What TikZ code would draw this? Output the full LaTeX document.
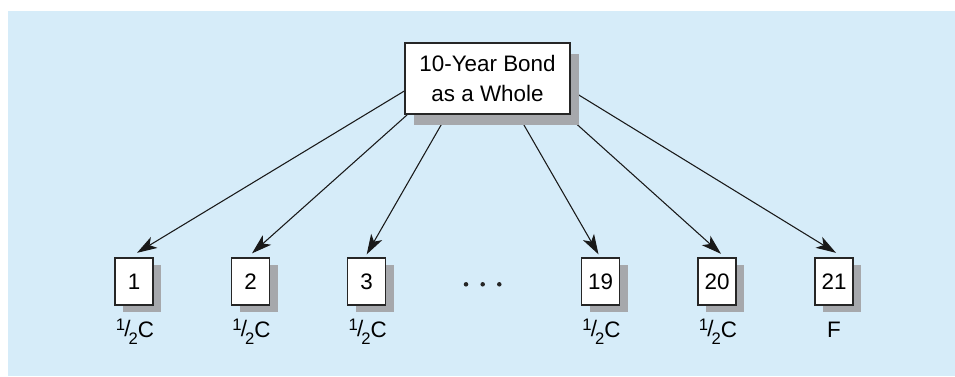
\documentclass[tikz,border=0pt]{standalone}
\usepackage{fontspec}
\setmainfont{Liberation Sans}
\usetikzlibrary{arrows.meta,calc,shadows}
\definecolor{bgblue}{RGB}{214,236,249}
\definecolor{shadowgray}{RGB}{166,168,172}
\pgfdeclarelayer{bglayer}
\pgfdeclarelayer{linelayer}
\pgfsetlayers{bglayer,linelayer,main}
\tikzset{
  bigbox/.style={draw=black!85, line width=1pt, fill=white, align=center,
    minimum width=165*0.75pt, minimum height=71*0.75pt, inner sep=0pt,
    font=\fontsize{16.8}{22.5}\selectfont,
    drop shadow={shadow xshift=7pt, shadow yshift=-8.5pt, fill=shadowgray, opacity=1, rounded corners=3pt}},
  smallbox/.style={draw=black!85, line width=1pt, fill=white,
    minimum width=38*0.75pt, minimum height=47*0.75pt, inner sep=0pt,
    font=\fontsize{16.8}{19}\selectfont,
    drop shadow={shadow xshift=6pt, shadow yshift=-5.5pt, fill=shadowgray, opacity=1, rounded corners=3pt}},
  lbl/.style={font=\fontsize{16.8}{19}\selectfont, inner sep=0pt},
  dotnode/.style={circle, fill=black!85, inner sep=0pt, minimum size=3.4pt},
  conn/.style={draw=black!90, line width=0.8pt,
    -{Stealth[length=15pt, width=9.5pt, inset=4pt]}},
}
\newcommand{\halfC}{\raisebox{0.55ex}{\fontsize{12.5}{12}\selectfont 1}\kern-0.5pt\raisebox{0.05ex}{/}\kern-1.5pt\raisebox{-0.6ex}{\fontsize{12.5}{12}\selectfont 2}C}
\begin{document}
\begin{tikzpicture}[x=0.75pt, y=-0.75pt]
\useasboundingbox (0,0) rectangle (955,376);
\begin{pgfonlayer}{bglayer}
  \fill[bgblue] (8,11) rectangle (955,376);
\end{pgfonlayer}

\node[bigbox] (top) at (487.5,78.5) {10-Year Bond\\as a Whole};

\node[smallbox] (b1)  at (134,281.5) {1};
\node[smallbox] (b2)  at (250.5,281.5) {2};
\node[smallbox] (b3)  at (366.7,281.5) {3};
\node[smallbox] (b19) at (600.5,281.5) {19};
\node[smallbox] (b20) at (717,281.5) {20};
\node[smallbox] (b21) at (834,281.5) {21};

\node[dotnode] (d1) at (466,284.3) {};
\node[dotnode] (d2) at (482.7,284.3) {};
\node[dotnode] (d3) at (499.3,284.3) {};

\node[lbl] (l1)  at (135,332) {\halfC};
\node[lbl] (l2)  at (251.5,332) {\halfC};
\node[lbl] (l3)  at (367.7,332) {\halfC};
\node[lbl] (l19) at (601.5,332) {\halfC};
\node[lbl] (l20) at (718,332) {\halfC};
\node[lbl] (l21) at (834,330) {F};

\begin{pgfonlayer}{linelayer}
  \draw[conn] ($(top.west)+(0,12.5)$)       -- ($(b1.north)+(3,-4.5)$);
  \draw[conn] ($(top.south west)+(3,0)$)    -- ($(b2.north)+(1.5,-4)$);
  \draw[conn] ($(top.south)+(-40.5,0)$)     -- ($(b3.north)+(0,-3)$);
  \draw[conn] ($(top.south)+(30.5,0)$)      -- ($(b19.north)+(-2,-3)$);
  \draw[conn] ($(top.south east)+(-4.5,0)$) -- ($(b20.north)+(4,-3.5)$);
  \draw[conn] ($(top.east)+(0,11.5)$)       -- ($(b21.north)+(2,-4.5)$);
\end{pgfonlayer}
\end{tikzpicture}
\end{document}
